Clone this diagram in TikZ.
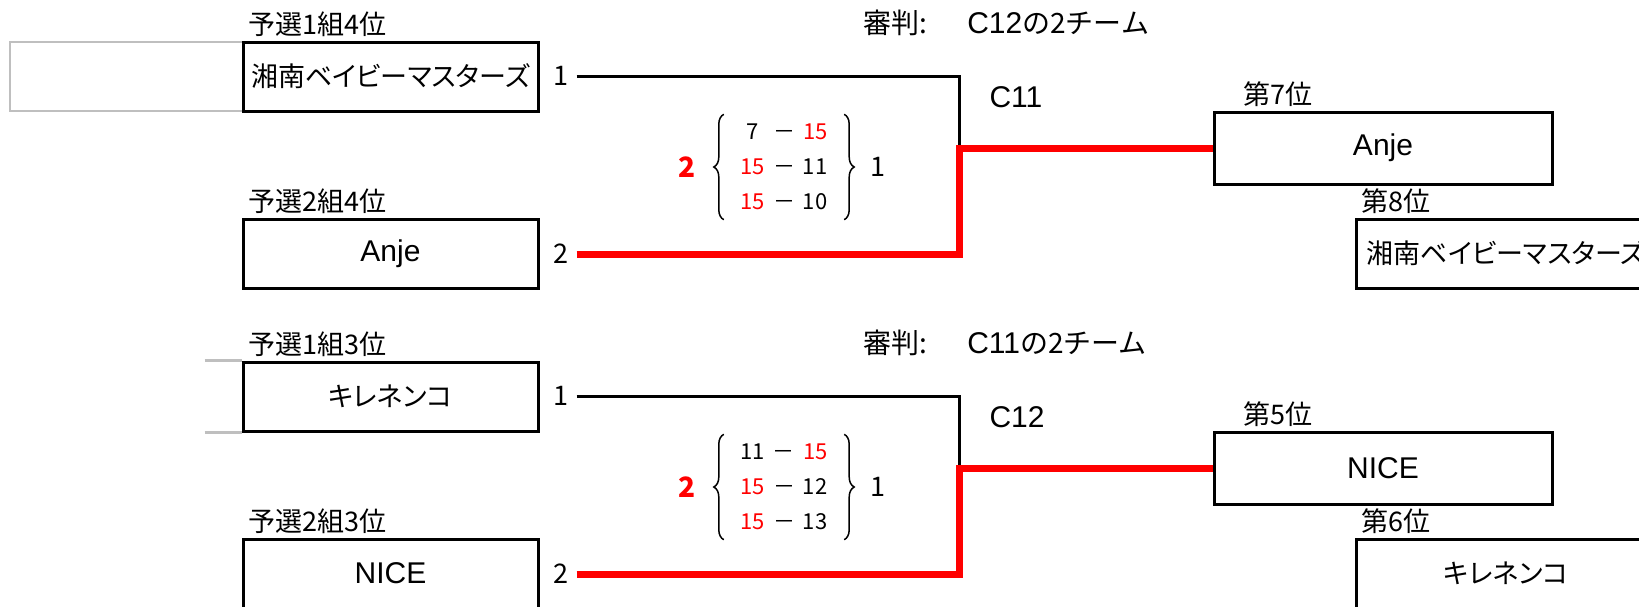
\documentclass[tikz,border=0pt]{standalone}
\usepackage{fontspec}
\setmainfont[RawFeature=+palt]{Noto Sans CJK JP}
\newfontfamily\lat{Liberation Sans}
\usetikzlibrary{positioning,decorations.pathreplacing}
\definecolor{stubgray}{RGB}{191,191,191}
\newcommand{\bigfont}{\fontsize{27}{32}\selectfont}
\newcommand{\latword}[1]{{\lat\fontsize{30}{32}\selectfont #1}}

\tikzset{
  team/.style={draw, line width=3pt, minimum width=295pt, minimum height=69pt, inner sep=0pt, font=\bigfont},
  rank/.style={team, minimum width=338pt, minimum height=72pt},
  place/.style={team, minimum width=300pt},
  heading/.style={anchor=south west, inner sep=1pt, yshift=3pt, font=\bigfont},
  judge/.style={anchor=west, font=\fontsize{28}{32}\selectfont\addfontfeature{RawFeature=-palt}},
  seed/.style={inner sep=8pt, font=\bigfont},
  win/.style={red, line width=7pt},
  lose/.style={black, line width=3pt},
  stub/.style={stubgray, line width=2.5pt},
  sets/.style={minimum width=120pt, minimum height=97pt, inner sep=0pt, font=\fontsize{22}{35}\selectfont},
  curly/.style={decorate, decoration={brace, amplitude=10pt}, line width=1.5pt},
}

\begin{document}
\begin{tikzpicture}[x=1pt,y=-1pt]
  \useasboundingbox (0,0) rectangle (1639,606);

  % C11
  \draw[stub] (10,42) rectangle (243,111);
  \node[team, label={[name=c1, heading, xshift=6pt]north west:予選1組4位}] (t1) at (390.5,76.5) {湘南ベイビーマスターズ};
  \node[team, label={[name=c2, heading, xshift=6pt]north west:予選2組4位}] (t2) at (390.5,253.5) {\latword{Anje}};
  \node[seed] (s1) at (561,76) {1};
  \node[seed] (s2) at (561,254) {2};
  \node[judge] (j1) at (860,23) {審判:\hspace{12pt}　\latword{C12}の2チーム};
  \node[anchor=west] (k1) at (986,97) {\latword{C11}};
  \coordinate (m1) at (959,148);
  \node[rank, label={[name=c7, heading, xshift=30pt]north west:第7位}] (r7) at (1383,148) {\latword{Anje}};
  \node[place, label={[name=c8, heading, xshift=6pt]north west:第8位}] (r8) at (1506,253.5) {湘南ベイビーマスターズ};
  \draw[lose] (s1.east) -| (m1);
  \draw[win] (s2.east) -| (m1) -- (r7.west);
  \node[sets] (g1) at (784,167) {\begin{tabular}{@{}c@{\hspace{8pt}}c@{\hspace{8pt}}c@{}}
    7 & － & \textcolor{red}{15}\\
    \textcolor{red}{15} & － & 11\\
    \textcolor{red}{15} & － & 10\end{tabular}};
  \draw[curly] (g1.south west) -- (g1.north west);
  \draw[curly] (g1.north east) -- (g1.south east);
  \node[red, font=\bfseries\fontsize{28}{30}\selectfont] (w1) at (687,167) {2};
  \node[seed] (l1) at (878,167) {1};

  % C12
  \node[team, label={[name=c3, heading, xshift=6pt]north west:予選1組3位}] (t3) at (390.5,396.5) {キレネンコ};
  \node[team, label={[name=c4, heading, xshift=6pt]north west:予選2組3位}] (t4) at (390.5,573.5) {\latword{NICE}};
  \coordinate (g3a) at ([xshift=-37pt]t3.north west);
  \coordinate (g3b) at ([xshift=-37pt]t3.south west);
  \draw[stub] (g3a) -- (t3.north west);
  \draw[stub] (g3b) -- (t3.south west);
  \node[seed] (s3) at (561,396) {1};
  \node[seed] (s4) at (561,574) {2};
  \node[judge] (j2) at (860,343) {審判:\hspace{12pt}　\latword{C11}の2チーム};
  \node[anchor=west] (k2) at (986,417) {\latword{C12}};
  \coordinate (m2) at (959,468);
  \node[rank, label={[name=c5, heading, xshift=30pt]north west:第5位}] (r5) at (1383,468) {\latword{NICE}};
  \node[place, label={[name=c6, heading, xshift=6pt]north west:第6位}] (r6) at (1506,573.5) {キレネンコ};
  \draw[lose] (s3.east) -| (m2);
  \draw[win] (s4.east) -| (m2) -- (r5.west);
  \node[sets] (g2) at (784,487) {\begin{tabular}{@{}c@{\hspace{8pt}}c@{\hspace{8pt}}c@{}}
    11 & － & \textcolor{red}{15}\\
    \textcolor{red}{15} & － & 12\\
    \textcolor{red}{15} & － & 13\end{tabular}};
  \draw[curly] (g2.south west) -- (g2.north west);
  \draw[curly] (g2.north east) -- (g2.south east);
  \node[red, font=\bfseries\fontsize{28}{30}\selectfont] (w2) at (687,487) {2};
  \node[seed] (l2) at (878,487) {1};
\end{tikzpicture}
\end{document}
